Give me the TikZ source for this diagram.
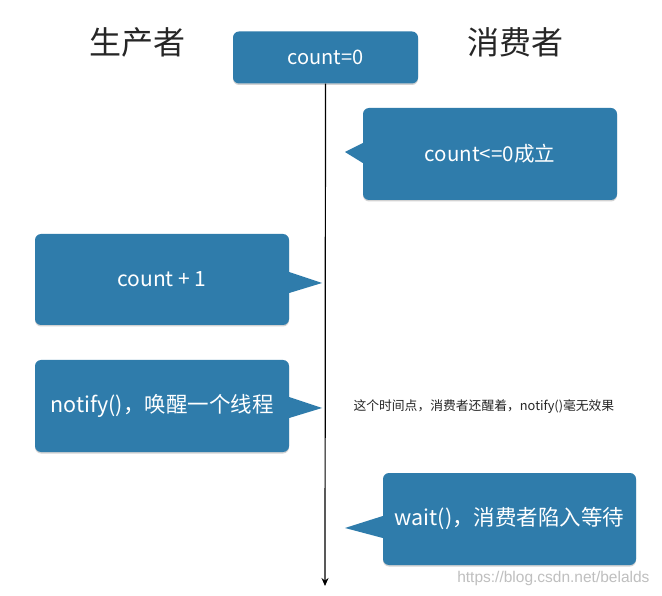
\documentclass[tikz,border=0pt]{standalone}
\usepackage{fontspec}
\setmainfont{Noto Sans CJK SC}
\newfontfamily\wmfont{Liberation Sans}
\usetikzlibrary{arrows.meta,shadows}
\definecolor{boxblue}{RGB}{47,124,171}
\tikzset{
  bubble/.style={fill=boxblue, rounded corners=6pt, inner sep=0pt, text=white,
    drop shadow={opacity=0.35, shadow xshift=0pt, shadow yshift=-1.5pt}},
  ptr/.style={fill=boxblue},
  head/.style={font=\fontsize{32}{36}\selectfont, text=black!85},
}
\begin{document}
\begin{tikzpicture}[x=1pt,y=-1pt]
\useasboundingbox[fill=white] (0,0) rectangle (662,596);
% headers
\node[head] (prod) at (137,42) {生产者};
\node[head] (cons) at (515,42) {消费者};
% top box
\node[bubble, minimum width=185pt, minimum height=52pt, font=\fontsize{20}{23}\selectfont] (cnt) at (325.5,57.5) {\raisebox{-1.5pt}{count=0}};
% box 2
\node[bubble, minimum width=254pt, minimum height=92pt, font=\fontsize{20.5}{24}\selectfont] (b2) at (490,154) {count<=0成立};
\coordinate (t2) at (345,152);
\fill[ptr] ([yshift=11pt]b2.west) -- (t2) -- ([yshift=-9pt]b2.west) -- cycle;
% box 3
\node[bubble, minimum width=254pt, minimum height=91pt, font=\fontsize{21}{24}\selectfont] (b3) at (162,279.5) {count + 1};
\coordinate (t3) at (322,283);
\fill[ptr] ([yshift=7.5pt]b3.east) -- (t3) -- ([yshift=-13.5pt]b3.east) -- cycle;
% box 4
\node[bubble, minimum width=254pt, minimum height=92pt, font=\fontsize{21.5}{25}\selectfont] (b4) at (162,406) {notify()，唤醒一个线程};
\coordinate (t4) at (322,408);
\fill[ptr] ([yshift=9pt]b4.east) -- (t4) -- ([yshift=-12pt]b4.east) -- cycle;
% note
\node[anchor=west, font=\fontsize{12.8}{15}\selectfont, text=black!85] (note) at (350,407) {这个时间点，消费者还醒着，notify()毫无效果};
% box 5
\node[bubble, minimum width=253pt, minimum height=92pt, font=\fontsize{21.5}{25}\selectfont] (b5) at (509.5,519) {wait()，消费者陷入等待};
\coordinate (t5) at (345,528);
\fill[ptr] ([yshift=3pt]b5.west) -- (t5) -- ([yshift=-19pt]b5.west) -- cycle;
% time line
\coordinate (end) at (325,586);
\draw[line width=1.2pt, -{Stealth[length=8pt,width=7pt]}] (cnt.south) -- (end);
% watermark
\node[anchor=east, font=\wmfont\fontsize{15.5}{18}\selectfont, text=black!25] (wm) at (653,578) {https://blog.csdn.net/belalds};
\end{tikzpicture}
\end{document}
